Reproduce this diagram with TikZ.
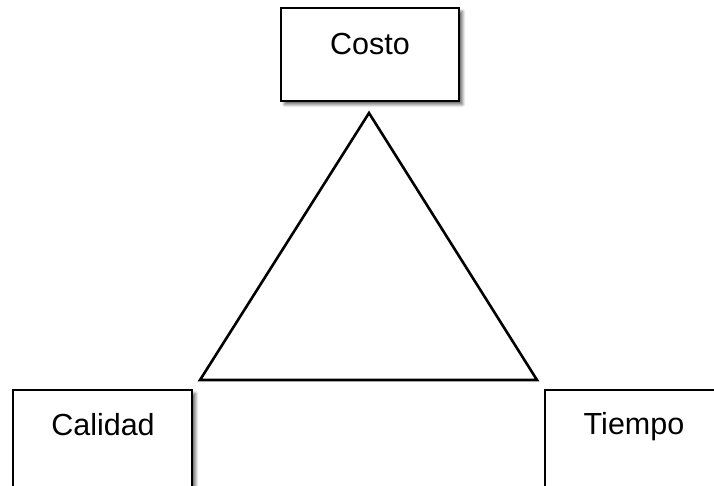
\documentclass[tikz,border=0pt]{standalone}
\usepackage{fontspec}
\setmainfont{Liberation Sans}
\usetikzlibrary{shadows.blur}
\tikzset{
  box/.style={draw=black, line width=2.6pt, fill=white, rectangle,
    blur shadow={shadow xshift=3.5pt, shadow yshift=-3.5pt, shadow blur steps=6, shadow blur radius=3pt, shadow opacity=60}},
  lbl/.style={font=\fontsize{30.5}{36}\selectfont, inner sep=0pt, anchor=base},
  tri/.style={draw=black, line width=2.6pt, line join=miter}
}
\begin{document}
\begin{tikzpicture}[x=1pt, y=-1pt]
  \useasboundingbox (0,0) rectangle (714,485);
  \clip (0,0) rectangle (714,485);
  % the three corner boxes
  \node[box, minimum width=178pt, minimum height=93pt] (costo) at (370,54.5) {};
  \node[box, minimum width=179pt, minimum height=105pt] (calidad) at (102.5,442.5) {};
  \node[box, minimum width=179pt, minimum height=105pt] (tiempo) at (634.5,442.5) {};
  % their labels, placed by baseline
  \node[lbl] (tcosto) at (370,54) {Costo};
  \node[lbl] (tcalidad) at (103,435) {Calidad};
  \node[lbl] (ttiempo) at (634,434) {Tiempo};
  % central triangle
  \coordinate (apex) at (369,113);
  \coordinate (bl) at (200,380);
  \coordinate (br) at (537,380);
  \draw[tri] (apex) -- (bl) -- (br) -- cycle;
\end{tikzpicture}
\end{document}
